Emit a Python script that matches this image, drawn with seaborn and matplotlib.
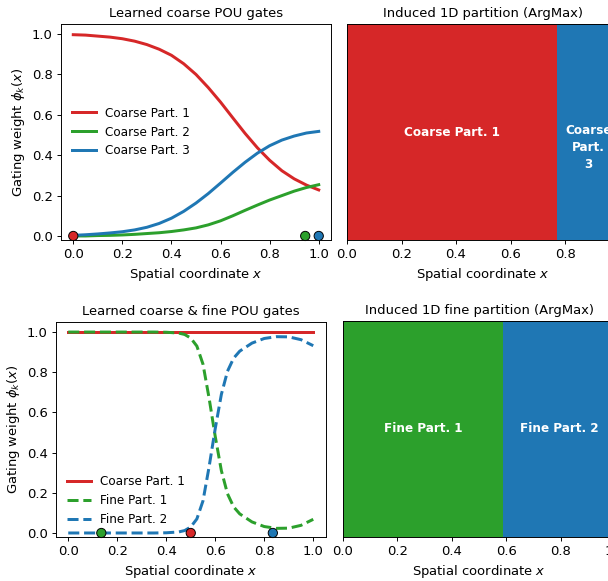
import numpy as np
import pandas as pd
import seaborn as sns
import matplotlib.pyplot as plt

# ---- data ----
x_coarse = [0.0, 0.05, 0.1, 0.15, 0.2, 0.25, 0.3, 0.35, 0.4, 0.45, 0.5,
            0.55, 0.6, 0.65, 0.7, 0.75, 0.8, 0.85, 0.9, 0.95, 1.0]
coarse_1 = [0.997, 0.995, 0.99, 0.985, 0.977, 0.965, 0.948, 0.925, 0.895, 0.853, 0.80,
            0.735, 0.663, 0.585, 0.508, 0.437, 0.375, 0.323, 0.283, 0.252, 0.228]
coarse_2 = [0.0, 0.0, 0.002, 0.003, 0.005, 0.008, 0.012, 0.016, 0.022, 0.03, 0.04,
            0.055, 0.075, 0.1, 0.127, 0.153, 0.178, 0.2, 0.222, 0.24, 0.254]
coarse_3 = [0.003, 0.006, 0.01, 0.015, 0.021, 0.03, 0.043, 0.062, 0.088, 0.122, 0.163,
            0.21, 0.262, 0.315, 0.365, 0.41, 0.447, 0.475, 0.495, 0.51, 0.518]
coarse_centers = [0.0, 0.945, 1.0]

x_fine = [0.0, 0.05, 0.1, 0.15, 0.2, 0.25, 0.3, 0.35, 0.4, 0.45, 0.475, 0.5, 0.525,
          0.55, 0.575, 0.6, 0.625, 0.65, 0.675, 0.7, 0.75, 0.8, 0.85, 0.9, 0.95, 1.0]
coarse_only = [1.0] * len(x_fine)
fine_1 = [1.0, 1.0, 1.0, 1.0, 1.0, 1.0, 1.0, 1.0, 0.999, 0.995, 0.988, 0.97, 0.93,
          0.84, 0.67, 0.48, 0.31, 0.195, 0.13, 0.095, 0.055, 0.032, 0.023, 0.024, 0.038, 0.068]
fine_2 = [0.0, 0.0, 0.0, 0.0, 0.0, 0.0, 0.0, 0.0, 0.001, 0.005, 0.012, 0.03, 0.07,
          0.16, 0.33, 0.52, 0.69, 0.805, 0.87, 0.905, 0.945, 0.968, 0.977, 0.976, 0.962, 0.932]
fine_centers = [0.5, 0.135, 0.835]  # coarse 1, fine 1, fine 2

coarse_bounds = [0.0, 0.77, 1.0]
coarse_region_labels = ["Coarse Part. 1", "Coarse\nPart.\n3"]
fine_bounds = [0.0, 0.59, 1.0]
fine_region_labels = ["Fine Part. 1", "Fine Part. 2"]

RED, GREEN, BLUE = "#d62728", "#2ca02c", "#1f77b4"

DPI = 86
plt.rcParams['font.size'] = 10
plt.rcParams['xtick.labelsize'] = 11
plt.rcParams['ytick.labelsize'] = 11
plt.rcParams['axes.labelsize'] = 11
fig = plt.figure(figsize=(608 / DPI, 581 / DPI), dpi=DPI)


def px_axes(left, right, top, bottom):
    W, H = 608, 581
    return fig.add_axes([left / W, (H - bottom) / H, (right - left) / W, (bottom - top) / H])


def gates_panel(ax, x, series, centers, title, legend_loc):
    for y, color, label, ls in series:
        sns.lineplot(x=x, y=y, color=color, lw=2.5, label=label, ax=ax, linestyle=ls)
    sns.scatterplot(x=centers, y=[0.0] * len(centers), hue=[str(i) for i in range(len(centers))],
                    palette=[s[1] for s in series],
                    s=60, edgecolor="black", linewidth=0.8, zorder=5, clip_on=False,
                    legend=False, ax=ax)
    ax.set_xlim(-0.05, 1.05)
    ax.set_ylim(-0.02, 1.05)
    ax.set_xticks([0.0, 0.2, 0.4, 0.6, 0.8, 1.0])
    ax.set_title(title, fontsize=11)
    ax.set_xlabel("Spatial coordinate $x$")
    ax.set_ylabel(r"Gating weight $\phi_k(x)$")
    ax.legend(frameon=False, loc=legend_loc, fontsize=10)


def partition_panel(ax, bounds, labels, colors, title):
    for i, (lab, col) in enumerate(zip(labels, colors)):
        ax.axvspan(bounds[i], bounds[i + 1], color=col, lw=0)
        xc = (bounds[i] + bounds[i + 1]) / 2
        if "\n" in lab:
            # narrow region: first line sits on the mid line, rest hangs below
            ax.text(xc, 0.535, lab, color="white", fontweight="bold", ha="center",
                    va="top", ma="center", linespacing=1.4, fontsize=10)
        else:
            ax.text(xc, 0.5, lab, color="white", fontweight="bold", ha="center",
                    va="center", fontsize=10)
    ax.set_xlim(0, 1)
    ax.set_ylim(0, 1)
    ax.set_yticks([])
    ax.set_title(title, fontsize=11)
    ax.set_xlabel("Spatial coordinate $x$")


ax1 = px_axes(61, 331, 24, 240)
gates_panel(ax1, x_coarse,
            [(coarse_1, RED, "Coarse Part. 1", "-"),
             (coarse_2, GREEN, "Coarse Part. 2", "-"),
             (coarse_3, BLUE, "Coarse Part. 3", "-")],
            coarse_centers, "Learned coarse POU gates", "center left")

ax2 = px_axes(347, 619.5, 24, 240)
partition_panel(ax2, coarse_bounds, coarse_region_labels, [RED, BLUE],
                "Induced 1D partition (ArgMax)")

ax3 = px_axes(56, 325.5, 322, 537)
gates_panel(ax3, x_fine,
            [(coarse_only, RED, "Coarse Part. 1", "-"),
             (fine_1, GREEN, "Fine Part. 1", "--"),
             (fine_2, BLUE, "Fine Part. 2", "--")],
            fine_centers, "Learned coarse & fine POU gates", "lower left")

ax4 = px_axes(343, 615, 321, 537)
partition_panel(ax4, fine_bounds, fine_region_labels, [GREEN, BLUE],
                "Induced 1D fine partition (ArgMax)")

fig.savefig("out.png", dpi=DPI)
